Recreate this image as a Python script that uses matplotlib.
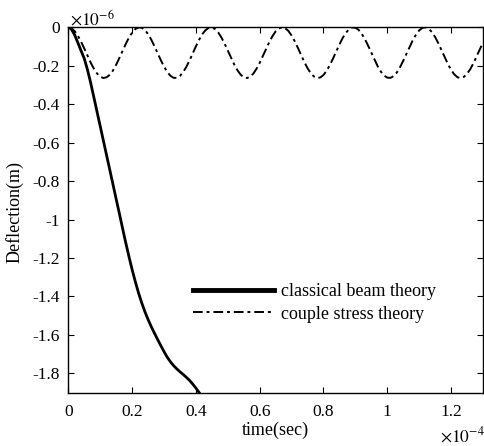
#!/usr/bin/env python3
"""
Deflection vs time: classical beam theory vs couple stress theory.
"""

import matplotlib
matplotlib.use('Agg')
import matplotlib.pyplot as plt
from matplotlib.ticker import FuncFormatter

plt.rcParams['font.family'] = ['Liberation Serif', 'DejaVu Serif']
plt.rcParams['mathtext.fontset'] = 'stix'

# time in units of 1e-4 s, deflection in units of 1e-6 m
t_classical = [i / 100 for i in range(42)]
w_classical = [0.000, -0.010, -0.040, -0.080, -0.122, -0.162, -0.220, -0.288,
               -0.363, -0.439, -0.514, -0.590, -0.666, -0.741, -0.817, -0.893,
               -0.968, -1.045, -1.120, -1.192, -1.260, -1.323, -1.381, -1.433,
               -1.479, -1.520, -1.557, -1.591, -1.624, -1.656, -1.687, -1.716,
               -1.740, -1.760, -1.777, -1.792, -1.806, -1.821, -1.837, -1.856,
               -1.877, -1.900]

t_couple = [i / 100 for i in range(131)]
w_couple = [0.000, -0.005, -0.020, -0.044, -0.075, -0.110, -0.147, -0.183, -0.215, -0.240,
            -0.257, -0.264, -0.260, -0.247, -0.225, -0.195, -0.160, -0.123, -0.087, -0.054,
            -0.028, -0.009, -0.001, -0.002, -0.014, -0.035, -0.064, -0.098, -0.134, -0.171,
            -0.204, -0.232, -0.252, -0.263, -0.263, -0.253, -0.233, -0.206, -0.173, -0.136,
            -0.099, -0.065, -0.036, -0.015, -0.003, -0.000, -0.009, -0.027, -0.053, -0.085,
            -0.121, -0.158, -0.193, -0.223, -0.246, -0.260, -0.264, -0.257, -0.241, -0.216,
            -0.185, -0.149, -0.112, -0.077, -0.046, -0.021, -0.006, -0.000, -0.005, -0.019,
            -0.043, -0.073, -0.108, -0.145, -0.181, -0.213, -0.239, -0.256, -0.264, -0.261,
            -0.248, -0.226, -0.196, -0.162, -0.125, -0.089, -0.056, -0.029, -0.010, -0.001,
            -0.002, -0.013, -0.034, -0.062, -0.096, -0.132, -0.169, -0.203, -0.231, -0.251,
            -0.262, -0.263, -0.254, -0.235, -0.207, -0.174, -0.138, -0.101, -0.067, -0.038,
            -0.016, -0.003, -0.000, -0.008, -0.025, -0.051, -0.083, -0.119, -0.156, -0.191,
            -0.222, -0.245, -0.260, -0.264, -0.258, -0.242, -0.218, -0.187, -0.151, -0.114,
            -0.079]

x_ticks = [0, 0.2, 0.4, 0.6, 0.8, 1.0, 1.2]
y_ticks = [0, -0.2, -0.4, -0.6, -0.8, -1.0, -1.2, -1.4, -1.6, -1.8]


def fmt(v, pos):
    s = f'{v:g}'
    return '0' if s in ('-0', '0') else s


fig = plt.figure(figsize=(4.84, 4.46), dpi=100)
ax = fig.add_axes([68.3 / 484, 1 - 392.5 / 446, 414.7 / 484, 365.2 / 446])

ax.plot(t_classical, w_classical, color='black', linewidth=2.0,
        label='classical beam theory')
ax.plot(t_couple, w_couple, color='black', linewidth=1.4,
        dashes=(5, 2, 1.5, 2), label='couple stress theory')

ax.set_xlim(0, 1.3)
ax.set_ylim(-1.9, 0)
ax.set_xticks(x_ticks)
ax.set_yticks(y_ticks)
ax.xaxis.set_major_formatter(FuncFormatter(fmt))
ax.yaxis.set_major_formatter(FuncFormatter(fmt))
ax.tick_params(direction='in', length=4, width=0.8, top=True, right=True,
               labelsize=12.5)
ax.tick_params(axis='x', pad=8)
ax.tick_params(axis='y', pad=6)
for sp in ax.spines.values():
    sp.set_linewidth(1.0)

leg = ax.legend(loc='center left', bbox_to_anchor=(0.3007, 0.245), frameon=False,
                fontsize=13, handlelength=4.5, handletextpad=0.37,
                borderpad=0, borderaxespad=0, labelspacing=0.3)
leg.get_lines()[0].set_linewidth(3.5)

fig.text(15 / 484, 1 - 212 / 446, 'Deflection(m)', rotation=90, fontsize=13,
         ha='center', va='center')
fig.text(275.7 / 484, 1 - 430 / 446, 'time(sec)', fontsize=13,
         ha='center', va='center')
fig.text(70 / 484, 1 - 25 / 446, r'$\times10^{-6}$', fontsize=12.5,
         ha='left', va='baseline')
fig.text(440 / 484, 1 - 442 / 446, r'$\times10^{-4}$', fontsize=12.5,
         ha='left', va='baseline')

fig.savefig('out.png', dpi=100)
